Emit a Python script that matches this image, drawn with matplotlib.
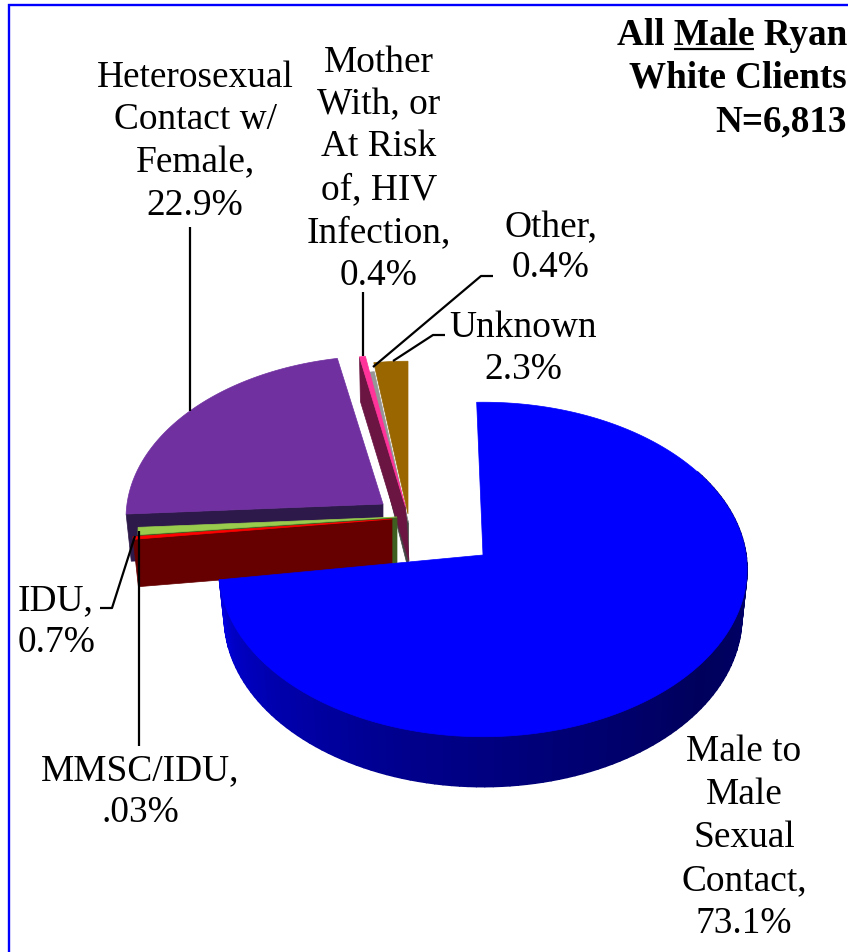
import numpy as np
import matplotlib
matplotlib.use("Agg")
import matplotlib.pyplot as plt
from matplotlib.patches import Polygon
from matplotlib.collections import PolyCollection

categories = ["Male to Male Sexual Contact", "MMSC/IDU", "IDU", "Heterosexual Contact w/ Female",
              "Mother With, or At Risk of, HIV Infection", "Other", "Unknown"]
values = [73.1, 0.03, 0.7, 22.9, 0.4, 0.4, 2.3]
top_colors = ["#0000FF", "#FF0000", "#99CC4D", "#7030A0", "#FF3399", "#969696", "#996600"]
side_colors = ["#000080", "#660000", "#3F5F20", "#2E1A4A", "#6B1543", "#444444", "#5A3C00"]

# layout of the exploded 3D pie, in figure pixels
APEX = [(483, 556), (392, 520), (397, 518), (383, 505), (405.5, 508), (408.5, 524), (408, 515)]
APEX_BOTTOM_SHIFT = [(0, 0), (0, 0), (0, 0), (0, 0), (3.5, 7), (0, 0), (0, 0)]
RX = [263, 258, 258, 256, 258, 258, 258]
RY = [166, 166, 166, 161, 166, 166, 166]
ROT = [-1.5, 0, 0, 0, 0, 0, 0]
K = 0.0865
THICK = 47
CX, CY = 0.98, 1.016
MIN_SWEEP = 0.9  # degrees; keeps a very thin slice visible


def project(i, ang):
    """clockwise angle from north, degrees -> offset from apex in px"""
    t = np.radians(np.asarray(ang) + ROT[i])
    u, v = np.sin(t), np.cos(t)
    s = 1 / (1 + K * v)
    return RX[i] * u * s, -RY[i] * v * s


fig = plt.figure(figsize=(8.48, 9.53), dpi=100)
ax = fig.add_axes([0, 0, 1, 1])
ax.set_xlim(0, 848)
ax.set_ylim(953, 0)
ax.axis("off")

sweeps = np.maximum(np.array(values) * 3.6, MIN_SWEEP)
sweeps = sweeps * 360 / sweeps.sum()
edges = np.concatenate([[0], np.cumsum(sweeps)])


def top_poly(i):
    a = np.linspace(edges[i], edges[i + 1], max(4, int((edges[i + 1] - edges[i]) * 2)))
    dx, dy = project(i, a)
    ax0, ay0 = APEX[i]
    return np.vstack([[ax0, ay0], np.c_[ax0 + dx, ay0 + dy]])


def bottom_pt(i, ang):
    dx, dy = project(i, ang)
    ax0, ay0 = APEX[i]
    return ax0 + dx * CX, ay0 + dy * CY + THICK


def cut_poly(i, ang):
    dx, dy = project(i, ang)
    ax0, ay0 = APEX[i]
    bx, by = bottom_pt(i, ang)
    sx, sy = APEX_BOTTOM_SHIFT[i]
    return [(ax0 + dx, ay0 + dy), (ax0, ay0), (ax0 + sx, ay0 + THICK + sy), (bx, by)]


_z = [2]


def z():
    _z[0] += 1
    return _z[0]


def add_top(i):
    ax.add_patch(Polygon(top_poly(i), closed=True, fc=top_colors[i], ec=top_colors[i], lw=0.5, zorder=z()))


def add_cut(i, ang):
    ax.add_patch(Polygon(cut_poly(i, ang), closed=True, fc=side_colors[i], ec=side_colors[i], lw=0.5, zorder=z()))


# back to front
add_cut(3, edges[3]); add_top(3)
add_cut(5, edges[5]); add_top(5)
add_top(6)
add_cut(4, edges[4]); add_top(4)
add_cut(2, edges[2]); add_top(2)
add_cut(1, edges[1]); add_top(1)

# blue slice: outer wall with shading, then its top
angs = np.linspace(edges[0] + 60, edges[1], 120)
shade_ang = [60, 90, 130, 170, 200, 230, 250, 265]
shade_lev = [0.44, 0.42, 0.36, 0.47, 0.56, 0.68, 0.78, 0.90]
quads, cols = [], []
ox, oy = APEX[0]
for a0, a1 in zip(angs[:-1], angs[1:]):
    x0, y0 = project(0, a0)
    x1, y1 = project(0, a1)
    quads.append([(ox + x0, oy + y0), (ox + x1, oy + y1), bottom_pt(0, a1), bottom_pt(0, a0)])
    cols.append((0, 0, float(np.interp(0.5 * (a0 + a1), shade_ang, shade_lev))))
ax.add_collection(PolyCollection(quads, facecolors=cols, edgecolors=cols, linewidths=1.2, zorder=z()))
add_top(0)

# border
ax.plot([9, 9, 848], [953, 6, 6], color="#0000FF", lw=1.7, solid_joinstyle="miter", zorder=1, clip_on=False)

# leaders
leaders = [
    ([190, 190], [228, 412]),
    ([363, 363], [293, 357]),
    ([493, 481, 373], [277, 277, 368]),
    ([445, 433, 393], [336, 336, 362]),
    ([100, 112, 135], [609, 609, 537]),
    ([139, 139], [532, 747]),
]
for xs, ys in leaders:
    ax.plot(xs, ys, color="black", lw=1.6, zorder=60, solid_capstyle="butt")

font = dict(family="Liberation Serif", fontsize=26.9, color="black", zorder=70)
labels = [
    ("Heterosexual\nContact w/\nFemale,\n22.9%", 195, [87, 129, 172, 215]),
    ("Mother\nWith, or\nAt Risk\nof, HIV\nInfection,\n0.4%", 379, [72, 114, 156, 199, 242, 285]),
    ("Other,\n0.4%", 551, [237, 277]),
    ("Unknown\n2.3%", 523, [337, 379]),
    ("MMSC/IDU,\n.03%", 140, [780, 822]),
    ("Male to\nMale\nSexual\nContact,\n73.1%", 744, [761, 804, 847, 890, 933]),
]
for text, cx, ys in labels:
    for line, y in zip(text.split("\n"), ys):
        ax.text(cx, y, line, ha="center", va="baseline", **font)
for line, y in zip(["IDU,", "0.7%"], [610, 652]):
    ax.text(18, y, line, ha="left", va="baseline", **font)

# title
bold = dict(family="Liberation Serif", fontsize=26.7, fontweight="bold", color="black", zorder=70)
ax.text(847, 45, "All Male Ryan", ha="right", va="baseline", **bold)
ax.text(847, 88, "White Clients", ha="right", va="baseline", **bold)
ax.text(847, 131, "N=6,813", ha="right", va="baseline", **bold)
fig.canvas.draw()
r = fig.canvas.get_renderer()


def width(s):
    tmp = ax.text(0, 0, s, **bold)
    w = tmp.get_window_extent(r).width
    tmp.remove()
    return w


x_right = 847 - width("x Ryan") + width("x")
x_left = x_right - width("Male")
ax.plot([x_left, x_right], [49.5, 49.5], color="black", lw=1.6, zorder=71, solid_capstyle="butt")

fig.savefig("out.png", dpi=100, facecolor="white")
